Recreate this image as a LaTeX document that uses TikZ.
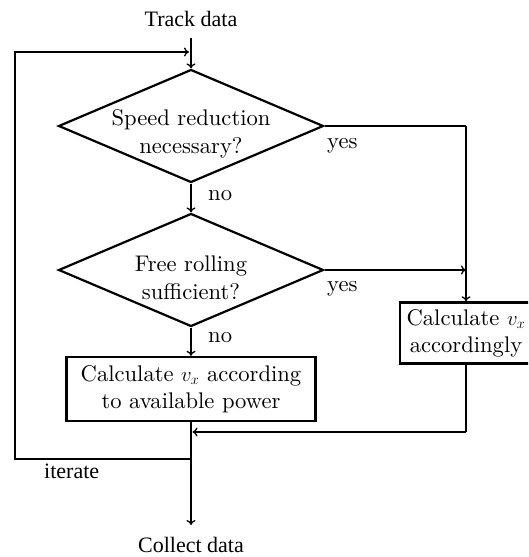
\documentclass[tikz,border=0pt]{standalone}
\usepackage{fontspec}
\setmainfont{lmroman10-regular.otf}
\newfontfamily\timesfont{Liberation Serif}
\usetikzlibrary{shapes.geometric,arrows.meta}
\begin{document}
\begin{tikzpicture}[x=1pt,y=-1pt,
  every node/.style={font=\fontsize{22.6}{28}\selectfont},
  decision/.style={draw,diamond,line width=2.2pt,minimum width=265pt,minimum height=113pt,inner sep=0pt,line join=miter},
  procbox/.style={draw,rectangle,line width=2.4pt,align=center,inner sep=0pt},
  conn/.style={line width=1.3pt,-{To[length=5pt,width=9pt]}},
  plain/.style={line width=1.3pt},
  tlabel/.style={font=\timesfont\fontsize{22}{26}\selectfont,inner sep=0pt},
  lab/.style={inner sep=0pt,anchor=base west}]
\useasboundingbox (0,0) rectangle (528,557);
\clip (0,0) rectangle (528,557);
\node[tlabel,anchor=base] (track) at (191,26) {Track data};
\coordinate (tracktop) at (191,38);
\node[decision,label={[align=center,yshift=-8pt]center:Speed reduction\\necessary?}] (d1) at (191,126) {};
\node[decision,label={[align=center,yshift=-8pt]center:Free rolling\\sufficient?}] (d2) at (191,270) {};
\node[procbox,minimum width=249pt,minimum height=64pt] (b1) at (191,389) {Calculate $v_x$ according\\[-1pt]to available power};
\node[procbox,minimum width=132pt,minimum height=61pt] (b2) at (466,333) {Calculate $v_x$\\[-1pt]accordingly};
\node[tlabel,anchor=base] (collect) at (191,552) {Collect data};
\coordinate (collecttip) at (191,525);
\node[lab] (yes1) at (327,148) {yes};
\node[lab] (yes2) at (327,291) {yes};
\node[lab] (no1) at (208,200) {no};
\node[lab] (no2) at (208,342) {no};
\node[tlabel,anchor=base west] (iter) at (44,478) {iterate};
\coordinate (merge) at (191,432);
\coordinate (split) at (191,459);
\coordinate (loopbl) at (15,459);
\coordinate (looptl) at (15,52);
\coordinate (loopend) at (189,52);
\coordinate (right1) at (466,126);
\coordinate (right2) at (466,270);
\coordinate (b2down) at (466,432);
% connectors
\draw[conn] (tracktop) -- (d1.north);
\draw[conn] (d1.south) -- (d2.north);
\draw[conn] (d2.south) -- (b1.north);
\draw[plain] (d1.east) -- (right1);
\draw[conn] (right1) -- (b2.north);
\draw[conn] (d2.east) -- (right2);
\draw[plain] (b2.south) -- (b2down);
\draw[conn] (b2down) -- ([xshift=1.5pt]merge);
\draw[conn] (b1.south) -- (collecttip);
\draw[conn] (split) -- (loopbl) -- (looptl) -- (loopend);
\end{tikzpicture}
\end{document}
